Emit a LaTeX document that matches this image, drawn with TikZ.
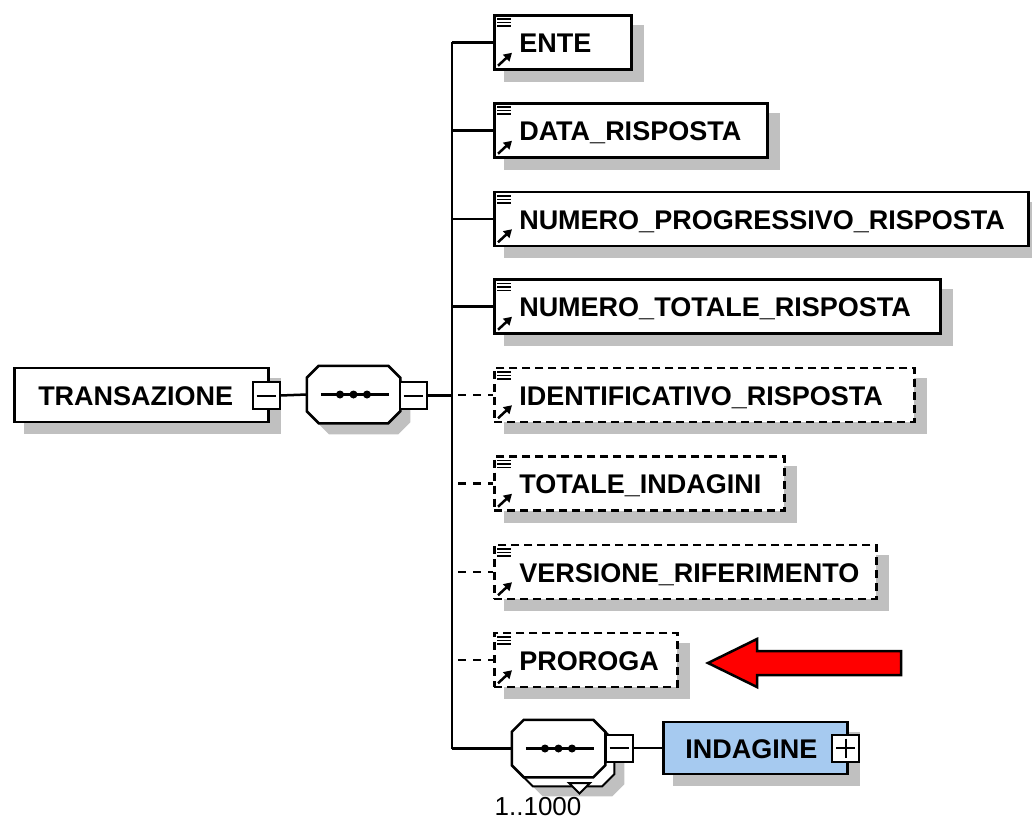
\documentclass[tikz,border=0pt]{standalone}
\usepackage{fontspec}
\setmainfont{Liberation Sans}
\usetikzlibrary{backgrounds,calc,arrows.meta}
\definecolor{shd}{RGB}{192,192,192}
\definecolor{lblue}{RGB}{166,202,240}
\definecolor{arrred}{RGB}{255,0,0}

\newcommand\octpath[3]{($(#1.north west)+(12+#2,#3)$) -- ($(#1.north east)+(-12+#2,#3)$) -- ($(#1.north east)+(#2,12+#3)$) -- ($(#1.south east)+(#2,-12+#3)$) -- ($(#1.south east)+(-12+#2,#3)$) -- ($(#1.south west)+(12+#2,#3)$) -- ($(#1.south west)+(#2,-12+#3)$) -- ($(#1.north west)+(#2,12+#3)$) -- cycle}
\newcommand\elemicons[1]{%
  \draw[line width=1.5pt] ($(#1.north west)+(4,5)$) -- +(14,0);
  \draw[line width=1.5pt] ($(#1.north west)+(4,8.5)$) -- +(14,0);
  \draw[line width=1.5pt] ($(#1.north west)+(4,12)$) -- +(14,0);
  \draw[line width=2.5pt,-{Triangle[length=8pt,width=9pt]}] ($(#1.south west)+(5,-5)$) -- ($(#1.south west)+(19,-18)$);
}
\newcommand\shadowof[1]{\fill[shd] ($(#1.north west)+(11,11)$) rectangle ($(#1.south east)+(11,11)$);}

\begin{document}
\begin{tikzpicture}[x=1pt,y=-1pt,line width=2.5pt,
  lbl/.style={font=\fontsize{27}{30}\selectfont\bfseries},
  elem/.style={lbl,draw,fill=white,inner sep=0pt,minimum height=54pt,anchor=west,text height=20pt,text depth=0pt},
  optelem/.style={elem,dash pattern=on 8pt off 5pt},
  pm/.style={draw,fill=white,minimum size=27pt,inner sep=0pt,line width=2pt},
  octa/.style={minimum width=91pt,minimum height=55pt,inner sep=0pt},
  dcon/.style={dash pattern=on 8pt off 7pt,dash phase=-6pt}]
\useasboundingbox (0,0) rectangle (1032,821);

% root
\node[elem] (root) at (13,395) {\makebox[254pt][l]{\hspace{24pt}TRANSAZIONE}};
\node[pm] (m1) at (266,395.5) {};
\draw[line width=2pt] ($(m1.west)+(5,0)$) -- ($(m1.east)+(-5,0)$);

% sequence
\node[octa] (seq) at (353.5,394.5) {};
\draw[fill=white] \octpath{seq}{0}{0};
\draw ($(seq.west)+(14,0)$) -- ($(seq.east)+(-11,0)$);
\foreach \dx in {-13.5,0,13.5} \fill ($(seq.center)+(\dx,0)$) circle (4);
\node[pm] (m2) at (413,395.5) {};
\draw[line width=2pt] ($(m2.west)+(5,0)$) -- ($(m2.east)+(-5,0)$);
\draw (m1.east) -- (seq.west);

% children
\node[elem] (e1) at (493,42.5) {\makebox[137pt][l]{\hspace{25pt}ENTE}};
\node[elem] (e2) at (493,130.5) {\makebox[273pt][l]{\hspace{25pt}DATA\_RISPOSTA}};
\node[elem] (e3) at (493,219) {\makebox[534pt][l]{\hspace{25pt}NUMERO\_PROGRESSIVO\_RISPOSTA}};
\node[elem] (e4) at (493,306.5) {\makebox[446pt][l]{\hspace{25pt}NUMERO\_TOTALE\_RISPOSTA}};
\node[optelem] (e5) at (493,395) {\makebox[420pt][l]{\hspace{25pt}IDENTIFICATIVO\_RISPOSTA}};
\node[optelem] (e6) at (493,483.5) {\makebox[290pt][l]{\hspace{25pt}TOTALE\_INDAGINI}};
\node[optelem] (e7) at (493,572) {\makebox[382pt][l]{\hspace{25pt}VERSIONE\_RIFERIMENTO}};
\node[optelem] (e8) at (493,660) {\makebox[183pt][l]{\hspace{25pt}PROROGA}};
\foreach \n in {e1,e2,e3,e4,e5,e6,e7,e8} {\elemicons{\n}}

% repeated sequence
\node[octa] (seq2) at (558.5,748.5) {};
\draw[line width=2pt,fill=white] \octpath{seq2}{9}{9};
\draw[line width=2pt,fill=white] (569,783) -- (590,783) -- (579.5,793.5) -- cycle;
\draw[fill=white] \octpath{seq2}{0}{0};
\draw ($(seq2.west)+(14,0)$) -- ($(seq2.east)+(-11,0)$);
\foreach \dx in {-13.5,0,13.5} \fill ($(seq2.center)+(\dx,0)$) circle (4);
\node[pm] (m3) at (619,748) {};
\draw[line width=2pt] ($(m3.west)+(5,0)$) -- ($(m3.east)+(-5,0)$);
\node[font=\fontsize{26}{30}\selectfont,anchor=base] (mult) at (538,815) {1..1000};

\node[elem,fill=lblue,minimum height=52pt] (ind) at (662,748) {\makebox[184pt][l]{\hspace{22pt}INDAGINE}};
\node[pm] (p1) at (845.5,748) {};
\draw[line width=2pt] ($(p1.west)+(5,0)$) -- ($(p1.east)+(-5,0)$);
\draw[line width=2pt] ($(p1.north)+(0,5)$) -- ($(p1.south)+(0,-5)$);
\draw (m3.east) -- (ind.west);

% spine and connectors
\coordinate (sp) at (452,0);
\draw (sp |- e1.west) -- (sp |- seq2.west);
\draw (m2.east) -- (sp |- m2.east);
\foreach \n in {e1,e2,e3,e4} \draw (sp |- \n.west) -- (\n.west);
\foreach \n in {e5,e6,e7,e8} \draw[dcon] (sp |- \n.west) -- (\n.west);
\draw (sp |- seq2.west) -- (seq2.west);

% shadows
\begin{scope}[on background layer]
  \foreach \n in {root,e1,e2,e3,e4,e5,e6,e7,e8,ind} {\shadowof{\n}}
  \fill[shd] \octpath{seq}{10}{11};
  \fill[shd] \octpath{seq2}{19}{19};
\end{scope}

% red arrow
\draw[fill=arrred,line width=2.5pt,line join=miter] (708,663) -- (757,639) -- (757,651) -- (901,651) -- (901,675) -- (757,675) -- (757,687) -- cycle;
\end{tikzpicture}
\end{document}
